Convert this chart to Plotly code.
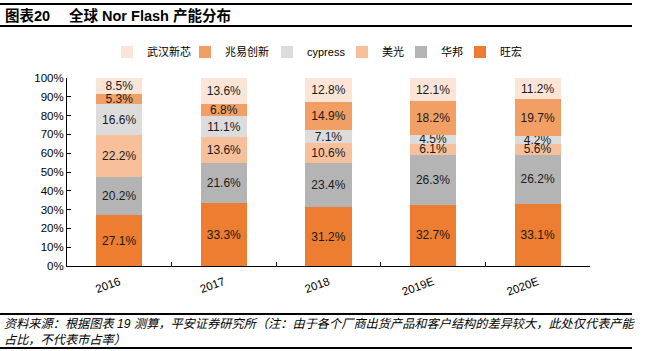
import plotly.graph_objects as go

years = ["2016", "2017", "2018", "2019E", "2020E"]
series_names = ["旺宏", "华邦", "美光", "cypress", "兆易创新", "武汉新芯"]
wanghong = [27.1, 33.3, 31.2, 32.7, 33.1]
huabang = [20.2, 21.6, 23.4, 26.3, 26.2]
meiguang = [22.2, 13.6, 10.6, 6.1, 5.6]
cypress = [16.6, 11.1, 7.1, 4.5, 4.2]
zhaoyi = [5.3, 6.8, 14.9, 18.2, 19.7]
wuhan = [8.5, 13.6, 12.8, 12.1, 11.2]
y_ticks = [0, 10, 20, 30, 40, 50, 60, 70, 80, 90, 100]
y_tick_labels = [f"{v}%" for v in y_ticks]

values = [wanghong, huabang, meiguang, cypress, zhaoyi, wuhan]
colors = ["#ED7D31", "#B4B4B4", "#F8C09A", "#DCDCDC", "#F29F65", "#FCE4D6"]

FONT = "Liberation Sans, Arial, Noto Sans CJK SC, sans-serif"

L, R, T, B = 67, 55, 78, 85
W, H = 645, 351
pw, ph = W - L - R, H - T - B

def px(x):
    return (x - L) / pw

def py(y):
    return (H - B - y) / ph

# legend anchor x (pixels) for each series, in series order
legend_x_px = [460, 401, 342, 267, 185, 107]

fig = go.Figure()
legends = {}
for i, (name, vals, c) in enumerate(zip(series_names, values, colors)):
    lg = "legend" if i == 0 else f"legend{i + 1}"
    fig.add_trace(go.Bar(
        x=years, y=vals, name=name, marker=dict(color=c, line=dict(width=0)),
        text=[f"{v:.1f}%" for v in vals], textposition="inside",
        insidetextanchor="middle", textangle=0,
        textfont=dict(size=12, color="#1a1a1a", family=FONT),
        legend=lg, showlegend=True,
    ))
    legends[lg] = dict(orientation="h", x=px(legend_x_px[i]), y=py(52),
                       xanchor="left", yanchor="middle",
                       font=dict(size=11, family=FONT, color="black"),
                       itemwidth=30, bgcolor="rgba(0,0,0,0)")

fig.update_layout(
    width=W, height=H, barmode="stack", bargap=0.56,
    showlegend=True,
    margin=dict(l=L, r=R, t=T, b=B, pad=0),
    paper_bgcolor="white", plot_bgcolor="white",
    font=dict(family=FONT, size=12, color="black"),
    uniformtext=dict(minsize=12, mode="show"),
    xaxis=dict(showline=True, linecolor="black", linewidth=1, ticks="inside",
               ticklen=4, tickcolor="black", tickson="boundaries", tickangle=-20,
               ticklabelstandoff=4, tickfont=dict(size=11.5), showgrid=False),
    yaxis=dict(range=[0, 100], tickvals=y_ticks, ticktext=y_tick_labels, showline=True,
               linecolor="black", linewidth=1, ticks="inside", ticklen=4,
               tickcolor="black", showgrid=False, zeroline=False,
               tickfont=dict(size=11.5)),
    **legends,
)

# decorative lines
for yy in [4, 26, 314, 348]:
    fig.add_shape(type="line", xref="paper", yref="paper", x0=px(0), x1=px(632),
                  y0=py(yy), y1=py(yy), line=dict(color="black", width=2))

fig.add_annotation(text="<b>图表20</b>", xref="paper", yref="paper", x=px(3), y=py(15),
                   xanchor="left", yanchor="middle", showarrow=False,
                   font=dict(size=14.5, family=FONT))
fig.add_annotation(text="<b>全球 Nor Flash 产能分布</b>", xref="paper", yref="paper",
                   x=px(67), y=py(15), xanchor="left", yanchor="middle", showarrow=False,
                   font=dict(size=14.5, family=FONT))
fig.add_annotation(text="<i>资料来源：根据图表 19 测算，平安证券研究所（注：由于各个厂商出货产品和客户结构的差异较大，此处仅代表产能</i>",
                   xref="paper", yref="paper", x=px(2), y=py(324), xanchor="left",
                   yanchor="middle", showarrow=False, font=dict(size=12.2, family=FONT))
fig.add_annotation(text="<i>占比，不代表市占率）</i>",
                   xref="paper", yref="paper", x=px(2), y=py(340), xanchor="left",
                   yanchor="middle", showarrow=False, font=dict(size=12.2, family=FONT))

fig.write_html("out.html")
